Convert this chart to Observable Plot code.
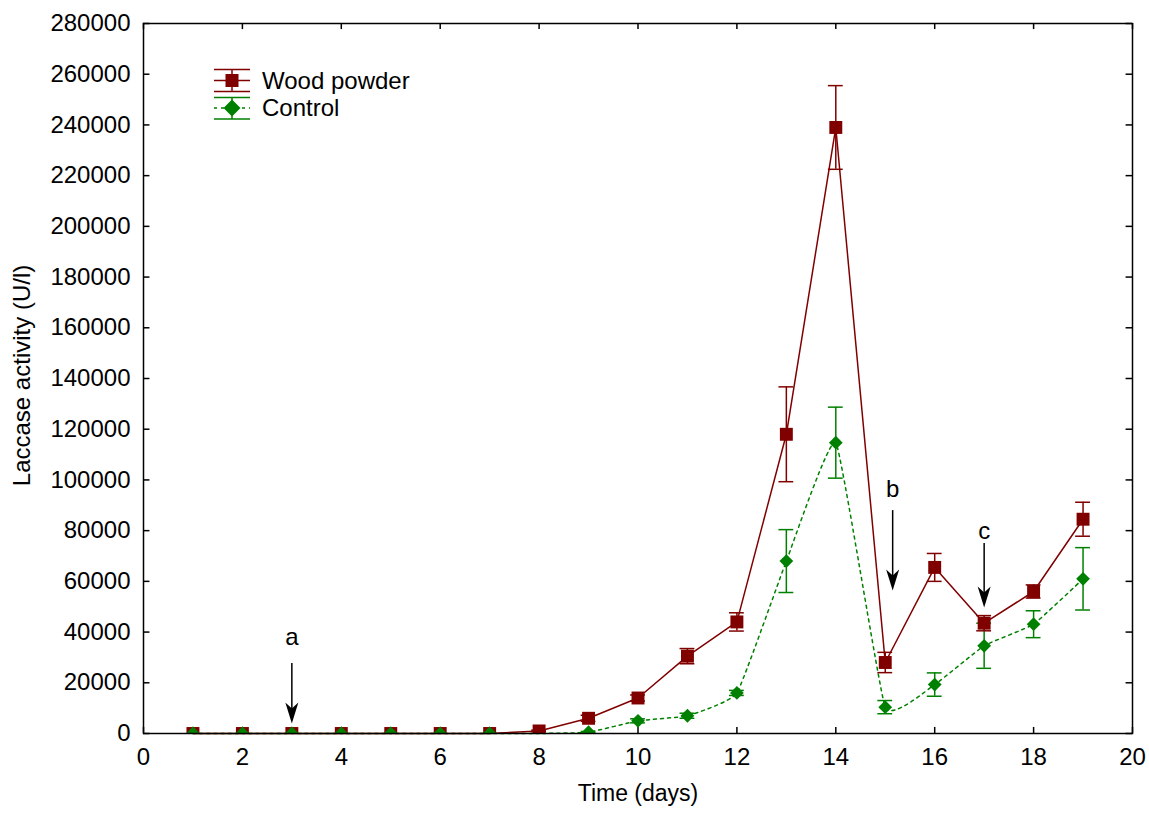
<!DOCTYPE html>
<html><head><meta charset="utf-8">
<script src="https://cdn.jsdelivr.net/npm/d3@7"></script>
<script src="https://cdn.jsdelivr.net/npm/@observablehq/plot@0.6"></script>
<style>
body{margin:0;background:#fff}
#wrap{position:relative;width:1149px;height:814px;font-family:"Liberation Sans",Arial,sans-serif}
#legend{position:absolute;left:0;top:0;pointer-events:none}
</style>
</head><body><div id="wrap"></div>
<script>
const days = [1,2,3,4,5,6,7,8,9,10,11,12,13,14,15,16,17,18,19];
const wood = [0,0,0,0,0,0,0,1000,6000,14000,30500,44000,118000,239000,28000,65500,43500,56000,84500];
const woodErr = [0,0,0,0,0,0,0,300,1200,1200,3000,3600,18700,16500,4000,5500,3000,2600,6700];
const control = [0,0,0,0,0,0,0,0,500,5000,7000,16000,68000,114700,10400,19300,34600,43100,61000];
const controlErr = [0,0,0,0,0,0,0,0,300,800,1000,1000,12400,14000,2600,4600,8900,5300,12300];
const xTicks = [0,2,4,6,8,10,12,14,16,18,20];
const yTicks = [0,20000,40000,60000,80000,100000,120000,140000,160000,180000,200000,220000,240000,260000,280000];
const arrowLabels = ["a","b","c"];
const arrowX = [3,15.15,17];
const arrowTop = [27600,87900,74900];
const arrowTip = [3900,56400,49700];
const arrowTextY = [37900,96200,79700];
const seriesNames = ["Wood powder","Control"];

const RED = "#800000", GREEN = "#008000";
const woodData = days.map((d,i)=>({day:d, v:wood[i], e:woodErr[i]}));
const ctrlData = days.map((d,i)=>({day:d, v:control[i], e:controlErr[i]}));
const arrows = arrowLabels.map((l,i)=>({l, x:arrowX[i], y1:arrowTop[i], y2:arrowTip[i], ty:arrowTextY[i]}));
const capW = 0.15;

const arrowHead = {draw(ctx){ctx.moveTo(0,0);ctx.lineTo(-6.5,-21);ctx.lineTo(0,-15);ctx.lineTo(6.5,-21);ctx.closePath();}};

function errMarks(data, color){
  const d = data.filter(r=>r.e>0);
  return [
    Plot.ruleX(d,{x:"day", y1:r=>r.v-r.e, y2:r=>r.v+r.e, stroke:color, strokeWidth:1.5}),
    Plot.ruleY(d,{y:r=>r.v+r.e, x1:r=>r.day-capW, x2:r=>r.day+capW, stroke:color, strokeWidth:1.5}),
    Plot.ruleY(d,{y:r=>r.v-r.e, x1:r=>r.day-capW, x2:r=>r.day+capW, stroke:color, strokeWidth:1.5})
  ];
}

const chart = Plot.plot({
  width:1149, height:814,
  marginLeft:143, marginRight:17, marginTop:23, marginBottom:81,
  style:{fontFamily:"'Liberation Sans',Arial,sans-serif", fontSize:"24px", background:"#fff", color:"#000"},
  x:{domain:[0,20]},
  y:{domain:[0,280000]},
  marks:[
    Plot.axisX(xTicks,{tickSize:0, tickPadding:14, label:null, fontSize:24, tickFormat:d=>String(d)}),
    Plot.axisY(yTicks,{tickSize:0, tickPadding:13, label:null, fontSize:24, tickFormat:d=>String(d)}),
    Plot.ruleX(xTicks,{x:d=>d, y1:0, y2:2400, stroke:"black", strokeWidth:1.5}),
    Plot.ruleX(xTicks,{x:d=>d, y1:280000-2400, y2:280000, stroke:"black", strokeWidth:1.5}),
    Plot.ruleY(yTicks,{y:d=>d, x1:0, x2:0.13, stroke:"black", strokeWidth:1.5}),
    Plot.ruleY(yTicks,{y:d=>d, x1:20-0.13, x2:20, stroke:"black", strokeWidth:1.5}),
    Plot.line(ctrlData,{x:"day", y:"v", stroke:GREEN, strokeWidth:1.5, strokeDasharray:"3,4", curve:d3.curveCardinal.tension(0.65)}),
    ...errMarks(ctrlData, GREEN),
    Plot.dot(ctrlData,{x:"day", y:"v", symbol:"diamond2", r:6.2, fill:GREEN, stroke:"none", clip:true}),
    Plot.line(woodData,{x:"day", y:"v", stroke:RED, strokeWidth:1.5}),
    ...errMarks(woodData, RED),
    Plot.dot(woodData,{x:"day", y:"v", symbol:"square", r:7.3, fill:RED, stroke:"none", clip:true}),
    Plot.dot(ctrlData.filter(d=>d.day<=7),{x:"day", y:"v", symbol:"diamond2", r:6.2, fill:GREEN, stroke:"none", clip:true}),
    Plot.ruleX(arrows,{x:"x", y1:"y1", y2:r=>r.y2+3000, stroke:"black", strokeWidth:1.5}),
    Plot.dot(arrows,{x:"x", y:"y2", symbol:arrowHead, fill:"black", stroke:"none"}),
    Plot.text(arrows,{x:"x", y:"ty", text:"l", fontSize:24}),
    Plot.frame({stroke:"black", strokeWidth:1.5}),
    Plot.text(["Time (days)"],{frameAnchor:"bottom", dy:67, fontSize:23}),
    Plot.text(["Laccase activity (U/l)"],{frameAnchor:"left", dx:-121, dy:-3, rotate:-90, textAnchor:"middle", fontSize:24})
  ]
});
const wrap = document.getElementById("wrap");
wrap.appendChild(chart);

// Legend overlay
const lg = d3.create("svg").attr("id","legend").attr("width",1149).attr("height",814);
const rows = [{name:seriesNames[0], color:RED, cy:80.5, top:69.5, bot:91.5, sym:"square", dash:null},
              {name:seriesNames[1], color:GREEN, cy:108, top:97.5, bot:119, sym:"diamond", dash:"3,4"}];
rows.forEach(r=>{
  const g = lg.append("g");
  g.append("line").attr("x1",214).attr("x2",250).attr("y1",r.top).attr("y2",r.top).attr("stroke",r.color).attr("stroke-width",1.5);
  g.append("line").attr("x1",214).attr("x2",250).attr("y1",r.bot).attr("y2",r.bot).attr("stroke",r.color).attr("stroke-width",1.5);
  g.append("line").attr("x1",232).attr("x2",232).attr("y1",r.top).attr("y2",r.bot).attr("stroke",r.color).attr("stroke-width",1.5);
  g.append("line").attr("x1",214).attr("x2",250).attr("y1",r.cy).attr("y2",r.cy).attr("stroke",r.color).attr("stroke-width",1.5).attr("stroke-dasharray",r.dash);
  if(r.sym==="square") g.append("rect").attr("x",225.5).attr("y",r.cy-6.5).attr("width",13).attr("height",13).attr("fill",r.color);
  else g.append("path").attr("d",`M232,${r.cy-8.5}L240.5,${r.cy}L232,${r.cy+8.5}L223.5,${r.cy}Z`).attr("fill",r.color);
  g.append("text").attr("x",262).attr("y",r.cy).attr("dy","0.35em").attr("font-size",24).attr("font-family","'Liberation Sans',Arial,sans-serif").text(r.name);
});
wrap.appendChild(lg.node());
</script>
</body></html>
